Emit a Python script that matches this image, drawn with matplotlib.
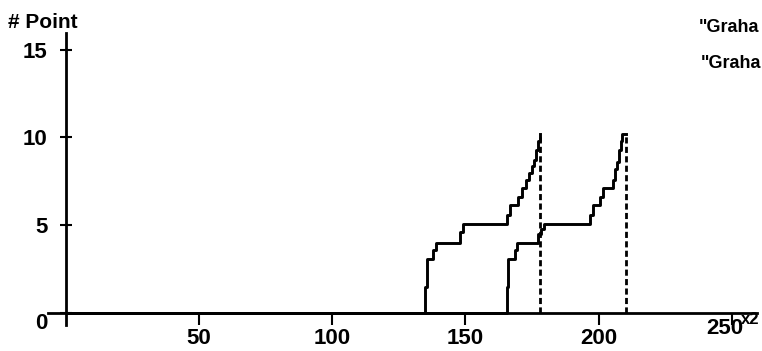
import matplotlib
matplotlib.use("Agg")
import matplotlib.pyplot as plt
from matplotlib.transforms import ScaledTranslation

plt.rcParams['font.family'] = ['Liberation Sans', 'DejaVu Sans']
plt.rcParams['font.weight'] = 'bold'

# step curves (x where the count changes, count after it)
graham1_x = [0, 134.8, 135.4, 137.9, 138.8, 147.9, 148.9, 165.4, 166.7, 169.8,
             171.1, 172.9, 173.8, 174.8, 175.7, 176.5, 177.3, 178.0]
graham1_y = [0, 1.5, 3.1, 3.6, 4.0, 4.6, 5.1, 5.6, 6.15, 6.6,
             7.1, 7.6, 8.0, 8.4, 8.7, 9.3, 9.8, 10.2]
graham1_end = 178.0

graham2_x = [0, 165.4, 166.0, 168.6, 169.2, 177.3, 178.5, 179.5, 196.7, 197.7,
             200.5, 201.7, 205.5, 206.2, 206.9, 207.6, 208.3, 208.6, 210.2]
graham2_y = [0, 1.5, 3.1, 3.6, 4.0, 4.5, 4.8, 5.1, 5.6, 6.15,
             6.6, 7.1, 7.6, 8.2, 8.6, 9.3, 9.8, 10.2, 10.2]
graham2_end = 210.2

x_ticks = [50, 100, 150, 200, 250]
y_ticks = [0, 5, 10, 15]
legend_labels = ['"Graha', '"Graha']

fig = plt.figure(figsize=(7.62, 3.51), dpi=100)
ax = fig.add_axes([48 / 762, 26 / 351, 709 / 762, 292 / 351])

ax.plot(graham1_x, graham1_y, drawstyle='steps-post', color='black', lw=2.1)
ax.plot(graham2_x, graham2_y, drawstyle='steps-post', color='black', lw=2.1)
ax.vlines([graham1_end, graham2_end], 0, [graham1_y[-1], graham2_y[-1]],
          colors='black', lw=2.0, linestyles=(0, (2.2, 1.2)))

ax.set_xlim(-6.66, 259.4)
ax.set_ylim(-0.68, 15.95)

for s in ['top', 'right']:
    ax.spines[s].set_visible(False)
ax.spines['left'].set_position(('data', 0))
ax.spines['bottom'].set_position(('data', 0))
ax.spines['left'].set_linewidth(2)
ax.spines['bottom'].set_linewidth(2)

ax.set_xticks(x_ticks)
ax.set_yticks(y_ticks)
ax.set_xticklabels([str(v) for v in x_ticks])
ax.set_yticklabels([str(v) for v in y_ticks])
ax.tick_params(axis='x', direction='out', length=8.5, width=1.5, pad=2.5, labelsize=16)
ax.tick_params(axis='y', direction='inout', length=8.5, width=1.5, pad=9, labelsize=16)

ax.get_yticklabels()[0].set_va('top')
lab250 = ax.get_xticklabels()[-1]
lab250.set_transform(lab250.get_transform() + ScaledTranslation(-7 / 100, 10 / 100, fig.dpi_scale_trans))

fig.text(8 / 762, 1 - 22 / 351, '# Point', fontsize=15, va='center', ha='left')
fig.text(741 / 762, 1 - 320 / 351, 'x2', fontsize=12, va='center', ha='left')
fig.text(699 / 762, 1 - 27 / 351, legend_labels[0], fontsize=13, va='center', ha='left')
fig.text(701 / 762, 1 - 64 / 351, legend_labels[1], fontsize=13, va='center', ha='left')

fig.savefig('out.png', dpi=100)
